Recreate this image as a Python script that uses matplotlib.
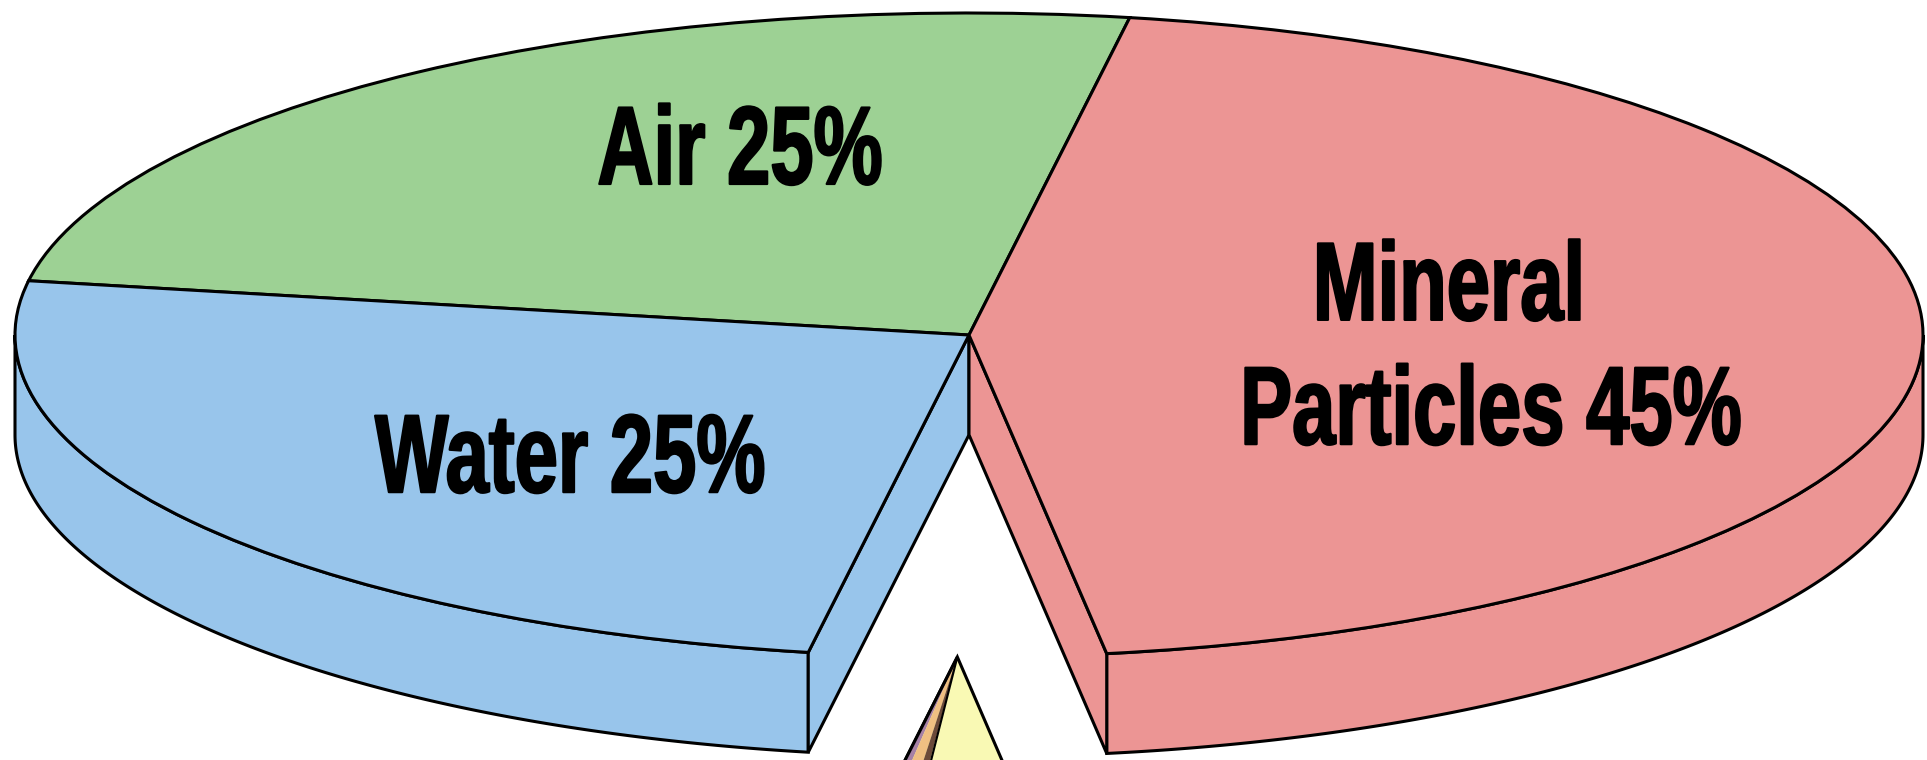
import numpy as np
import matplotlib.pyplot as plt
from matplotlib.patches import Polygon
from matplotlib.patheffects import AbstractPathEffect
from matplotlib.transforms import Affine2D

# Datos del grafico (composicion del suelo)
categorias = ['Air', 'Water', 'Organic Matter', 'Mineral Particles']
porcentajes = [25, 25, 5, 45]
colores = ['#9dd194', '#98c5eb', '#f9f9b4', '#ec9594']
etiquetas = ['Air 25%', 'Water 25%', 'Mineral', 'Particles 45%']

angulo_inicio = 80.3   # grados
grosor = 0.31          # espesor del "disco" 3D en unidades de datos
separacion = [0, 0, 1.0, 0]  # la porcion de materia organica sale hacia abajo
lw = 2.2

fig = plt.figure(figsize=(19.27, 7.6), dpi=100)
ax = fig.add_axes([0, 0, 1, 1])

# angulos de cada porcion
fracciones = np.array(porcentajes) / sum(porcentajes) * 360
limites = angulo_inicio + np.concatenate([[0], np.cumsum(fracciones)])


def centro(i):
    medio = np.radians((limites[i] + limites[i + 1]) / 2)
    return separacion[i] * np.cos(medio), separacion[i] * np.sin(medio)


def pared(t1, t2, cx, cy, color):
    # pared exterior (solo la parte delantera)
    a, b = max(t1, 180), min(t2, 360)
    if a >= b:
        return
    t = np.radians(np.linspace(a, b, 200))
    x = cx + np.cos(t)
    y = cy + np.sin(t)
    xs = np.concatenate([x, x[::-1]])
    ys = np.concatenate([y, y[::-1] - grosor])
    ax.add_patch(Polygon(np.column_stack([xs, ys]), closed=True, fc=color,
                         ec='black', lw=lw, zorder=1))


def cara(t, cx, cy, color):
    # cara del corte radial
    r = np.radians(t)
    px, py = cx + np.cos(r), cy + np.sin(r)
    pts = [(cx, cy), (px, py), (px, py - grosor), (cx, cy - grosor)]
    ax.add_patch(Polygon(pts, closed=True, fc=color, ec='black', lw=lw, zorder=1))


def franja(cx, cy, a, b, color, z):
    ra, rb = np.radians(a), np.radians(b)
    pts = [(cx, cy), (cx + np.cos(ra), cy + np.sin(ra)), (cx + np.cos(rb), cy + np.sin(rb))]
    ax.add_patch(Polygon(pts, closed=True, fc=color, ec='none', zorder=z))


n = len(porcentajes)
for i in range(n):
    cx, cy = centro(i)
    t1, t2 = limites[i], limites[i + 1]
    pared(t1, t2, cx, cy, colores[i])
    if separacion[i] == 0:
        if separacion[(i + 1) % n] != 0:
            cara(t2, cx, cy, colores[i])
        if separacion[i - 1] != 0:
            cara(t1, cx, cy, colores[i])

# caras superiores
ax.pie(porcentajes, colors=colores, startangle=angulo_inicio, counterclock=True,
       explode=separacion, radius=1,
       wedgeprops=dict(edgecolor='black', linewidth=lw, zorder=3))

# reflejo lateral de la porcion separada
for i in range(n):
    if separacion[i] != 0:
        cx, cy = centro(i)
        t1 = limites[i]
        franja(cx, cy, t1, t1 + 1.3, '#a681a6', 4)
        franja(cx, cy, t1 + 1.3, t1 + 3.4, '#efbf82', 4)
        franja(cx, cy, t1 + 3.4, t1 + 4.6, '#6b4a3a', 4)
        for t, w in [(t1, lw), (t1 + 4.8, lw * 0.7)]:
            r = np.radians(t)
            ax.plot([cx, cx + np.cos(r)], [cy, cy + np.sin(r)], color='black',
                    lw=w, zorder=5, solid_capstyle='butt')

# limites despues de pie() (pie los cambia)
ax.set_xlim(-1.01572, 1.00419)
ax.set_ylim(-1.31988, 1.04037)
ax.set_aspect('auto')
ax.axis('off')


class Estrecho(AbstractPathEffect):
    """Comprime horizontalmente el texto alrededor de x0 (pixeles) y lo engrosa."""

    def __init__(self, x0, sx, trazo):
        super().__init__()
        self.x0 = x0
        self.sx = sx
        self.trazo = trazo

    def draw_path(self, renderer, gc, tpath, affine, rgbFace=None):
        ajuste = affine + Affine2D().translate(-self.x0, 0).scale(self.sx, 1).translate(self.x0, 0)
        gc0 = renderer.new_gc()
        gc0.copy_properties(gc)
        gc0.set_linewidth(self.trazo)
        gc0.set_foreground(rgbFace if rgbFace is not None else 'black')
        gc0.set_joinstyle('round')
        renderer.draw_path(gc0, tpath, ajuste, rgbFace)
        gc0.restore()


fuente = dict(fontsize=80, fontweight='bold', color='black', ha='center',
              va='baseline', zorder=6,
              family=['Liberation Sans', 'DejaVu Sans'])
posiciones = [(-0.240, 0.469), (-0.418, -0.488), (0.503, 0.047), (0.547, -0.339)]
for texto, (x, y) in zip(etiquetas, posiciones):
    x0 = ax.transData.transform((x, y))[0]
    ax.text(x, y, texto, path_effects=[Estrecho(x0, 0.70, 1.6)], **fuente)

fig.savefig('out.png', dpi=100, facecolor='white')
